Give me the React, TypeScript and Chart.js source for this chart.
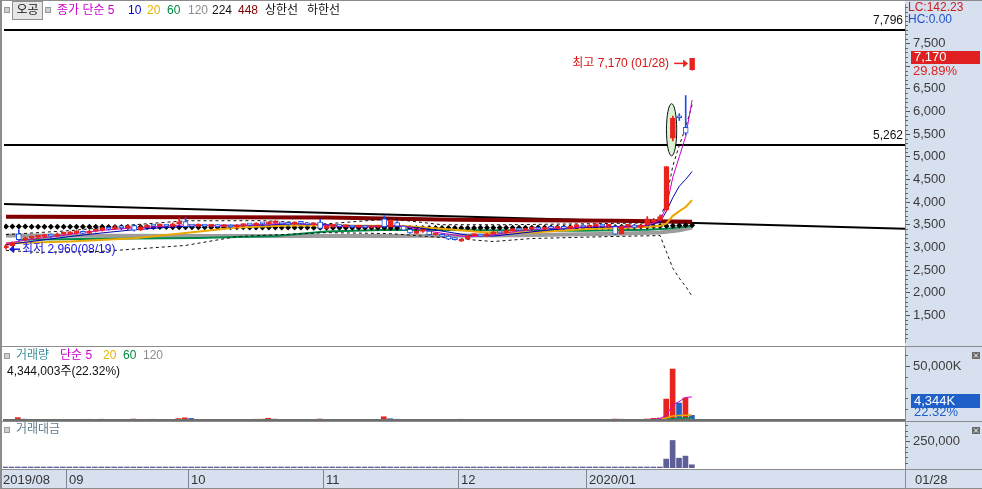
import React, { useEffect, useRef } from "react";
import { Chart, registerables } from "chart.js";
Chart.register(...registerables);

const FONT = '"Liberation Sans", "Noto Sans CJK KR", sans-serif';

// ---------- data ----------
const MONTH_LABELS = ["2019/08", "09", "10", "11", "12", "2020/01"];
const MONTH_START = [0, 10, 29, 50, 71, 91];
const LAST_DATE = "01/28";
const LOW_DATE = "08/19";
const HIGH_DATE = "01/28";
const CHANGE_PCT = "29.89%";
const VOL_LAST_TEXT = "4,344,003주(22.32%)";
const VOL_PCT = "22.32%";
const LC_TEXT = "LC:142.23";
const HC_TEXT = "HC:0.00";

const OPEN = [
  2990, 3040, 3300, 3170, 3200, 3220, 3240, 3260, 3250, 3290,
  3300, 3320, 3340, 3310, 3360, 3380, 3420, 3400, 3450, 3430,
  3480, 3380, 3450, 3480, 3470, 3500, 3470, 3520, 3570, 3480,
  3470, 3500, 3470, 3480, 3460, 3470, 3450, 3480, 3500, 3490,
  3530, 3520, 3540, 3560, 3520, 3510, 3540, 3530, 3500, 3560,
  3420, 3470, 3480, 3460, 3470, 3450, 3460, 3440, 3450, 3630,
  3460, 3550, 3470, 3400, 3310, 3350, 3360, 3280, 3290, 3250,
  3200, 3140, 3180, 3260, 3280, 3250, 3300, 3340, 3320, 3370,
  3400, 3380, 3410, 3430, 3400, 3440, 3420, 3450, 3420, 3460,
  3490, 3450, 3480, 3500, 3470, 3460, 3300, 3470, 3490, 3440,
  3500, 3560, 3600, 3830, 5410, 5880, 5650, 6920,
];
const HIGH = [
  3070, 3120, 3390, 3230, 3250, 3270, 3290, 3300, 3320, 3340,
  3350, 3370, 3360, 3380, 3400, 3440, 3450, 3480, 3470, 3500,
  3500, 3470, 3500, 3500, 3520, 3510, 3540, 3650, 3660, 3500,
  3520, 3510, 3500, 3490, 3490, 3480, 3500, 3520, 3510, 3550,
  3550, 3570, 3590, 3570, 3530, 3560, 3550, 3540, 3540, 3620,
  3480, 3490, 3490, 3490, 3480, 3480, 3470, 3470, 3480, 3700,
  3610, 3570, 3480, 3410, 3360, 3380, 3370, 3320, 3300, 3260,
  3210, 3190, 3270, 3300, 3290, 3310, 3350, 3350, 3380, 3410,
  3410, 3420, 3440, 3440, 3450, 3450, 3460, 3460, 3470, 3490,
  3500, 3490, 3510, 3510, 3500, 3480, 3480, 3500, 3500, 3500,
  3680, 3640, 3720, 4785, 5900, 5950, 6350, 7170,
];
const LOW = [
  2960, 3020, 3140, 3140, 3170, 3190, 3210, 3220, 3230, 3260,
  3280, 3300, 3290, 3300, 3340, 3360, 3380, 3390, 3410, 3420,
  3360, 3370, 3440, 3450, 3460, 3460, 3460, 3510, 3450, 3450,
  3460, 3460, 3450, 3440, 3450, 3430, 3440, 3470, 3470, 3480,
  3500, 3510, 3530, 3510, 3490, 3500, 3510, 3490, 3490, 3410,
  3410, 3440, 3450, 3450, 3440, 3440, 3430, 3430, 3430, 3440,
  3450, 3460, 3370, 3310, 3300, 3330, 3270, 3270, 3230, 3170,
  3160, 3130, 3170, 3250, 3240, 3240, 3290, 3310, 3310, 3360,
  3370, 3370, 3400, 3390, 3390, 3410, 3410, 3410, 3410, 3450,
  3440, 3440, 3470, 3460, 3460, 3280, 3290, 3460, 3430, 3430,
  3490, 3540, 3590, 3800, 5350, 5800, 5480, 6910,
];
const CLOSE = [
  3040, 3100, 3170, 3200, 3220, 3240, 3260, 3250, 3290, 3300,
  3320, 3340, 3310, 3360, 3380, 3420, 3400, 3450, 3430, 3470,
  3380, 3450, 3480, 3470, 3500, 3470, 3520, 3560, 3460, 3470,
  3500, 3470, 3480, 3460, 3470, 3450, 3480, 3500, 3490, 3530,
  3520, 3540, 3560, 3520, 3510, 3540, 3530, 3500, 3520, 3420,
  3470, 3480, 3460, 3470, 3450, 3460, 3440, 3450, 3470, 3460,
  3590, 3470, 3380, 3320, 3350, 3360, 3280, 3300, 3240, 3180,
  3170, 3180, 3260, 3280, 3250, 3300, 3340, 3320, 3370, 3400,
  3380, 3410, 3430, 3400, 3440, 3420, 3450, 3420, 3460, 3480,
  3450, 3480, 3500, 3470, 3490, 3290, 3470, 3490, 3440, 3490,
  3630, 3610, 3680, 4785, 5850, 5860, 5520, 7170,
];

// moving averages / bands as [dayIndex, value] points
const MA5 = [[0, 3090], [4, 3180], [8, 3250], [12, 3330], [16, 3390], [20, 3430], [24, 3460], [28, 3500], [32, 3480], [36, 3470], [40, 3510], [44, 3530], [48, 3510], [52, 3460], [56, 3450], [60, 3480], [62, 3470], [65, 3380], [69, 3290], [72, 3230], [76, 3280], [80, 3360], [84, 3410], [88, 3430], [92, 3470], [96, 3440], [99, 3460], [101, 3540], [102, 3600], [103, 3900], [104, 4550], [105, 5000], [106, 5450], [107, 6250]];
const MA10 = [[0, 3060], [5, 3150], [10, 3240], [15, 3320], [20, 3390], [25, 3440], [30, 3480], [35, 3490], [40, 3490], [45, 3520], [50, 3500], [55, 3470], [60, 3470], [64, 3440], [68, 3360], [72, 3270], [76, 3250], [80, 3310], [85, 3390], [90, 3440], [95, 3460], [100, 3480], [102, 3560], [103, 3800], [104, 4100], [105, 4350], [106, 4500], [107, 4674]];
const MA20 = [[0, 3090], [10, 3130], [20, 3200], [28, 3320], [36, 3440], [45, 3490], [55, 3480], [62, 3470], [68, 3410], [75, 3330], [82, 3330], [90, 3400], [98, 3440], [102, 3470], [103, 3530], [104, 3696], [105, 3800], [106, 3891], [107, 4043]];
const MA60 = [[2, 3170], [15, 3190], [30, 3210], [42, 3250], [50, 3350], [60, 3390], [75, 3380], [90, 3370], [100, 3390], [103, 3410], [107, 3470]];
const MA120 = [[0, 3260], [30, 3250], [60, 3250], [80, 3270], [95, 3300], [102, 3330], [105, 3380], [107, 3440]];
const MA448 = [[0, 3674], [50, 3660], [70, 3610], [95, 3587], [107, 3565]];
const MA224 = [
  3460, 3460, 3459, 3459, 3458, 3458, 3457, 3457, 3456, 3456,
  3455, 3455, 3454, 3454, 3453, 3453, 3452, 3452, 3451, 3451,
  3450, 3450, 3449, 3449, 3448, 3448, 3447, 3447, 3446, 3446,
  3445, 3445, 3444, 3444, 3443, 3443, 3442, 3442, 3441, 3441,
  3440, 3440, 3439, 3439, 3438, 3438, 3437, 3437, 3436, 3436,
  3435, 3435, 3434, 3434, 3433, 3433, 3432, 3432, 3431, 3431,
  3430, 3430, 3430, 3430, 3430, 3430, 3430, 3430, 3430, 3430,
  3430, 3430, 3430, 3430, 3431, 3431, 3432, 3432, 3433, 3433,
  3434, 3435, 3436, 3437, 3438, 3439, 3440, 3441, 3442, 3443,
  3444, 3445, 3446, 3448, 3450, 3452, 3454, 3456, 3458, 3460,
  3463, 3466, 3470, 3474, 3478, 3482, 3486, 3490,
];
const BB_UP = [[0, 3283], [10, 3370], [20, 3500], [28, 3587], [40, 3590], [50, 3520], [60, 3630], [68, 3500], [78, 3500], [90, 3520], [100, 3540], [102, 3560], [103, 4100], [104, 4800], [105, 5250], [106, 5650], [107, 6150]];
const BB_DN = [[0, 2935], [5, 2891], [15, 2913], [28, 3043], [36, 3239], [50, 3326], [60, 3304], [70, 3196], [76, 3130], [82, 3196], [94, 3239], [102, 3261], [103, 2900], [104, 2540], [105, 2320], [106, 2140], [107, 1920]];
const TREND = [[-0.3, 3960], [140.2, 3413]];
const HLINES = [7796, 5262];
const MARK = { idx: 103.8, hi: 6170, lo: 5020, half: 0.8 };

const VOLUME = [
  620, 540, 2200, 780, 560, 480, 510, 430, 590, 470,
  520, 610, 450, 680, 540, 720, 490, 630, 560, 600,
  880, 540, 470, 690, 520, 580, 610, 1300, 2000, 1500,
  600, 520, 470, 540, 610, 480, 520, 570, 640, 700,
  760, 1600, 820, 560, 600, 480, 520, 460, 540, 900,
  530, 480, 520, 470, 450, 500, 430, 480, 560, 3000,
  1200, 700, 640, 560, 500, 480, 520, 470, 460, 620,
  540, 700, 600, 520, 480, 540, 580, 500, 470, 520,
  480, 510, 540, 460, 500, 480, 520, 470, 510, 560,
  540, 520, 480, 500, 460, 860, 720, 540, 600, 580,
  900, 1500, 1800, 19400, 47200, 15700, 20400, 4344,
];
const VMA5 = [[101, 900], [102, 1100], [103, 4300], [104, 13800], [105, 17000], [106, 20800], [107, 21400]];
const VMA20 = [[102, 900], [103, 1800], [104, 3700], [105, 4200], [106, 4500], [107, 4700]];
const VMA60 = [[103, 900], [104, 1200], [107, 2000]];
const VMA120 = [[103, 800], [107, 1200]];

const TRADE_VALUE = [
  1850, 1680, 7100, 2500, 1800, 1550, 1650, 1400, 1920, 1550,
  1720, 2030, 1500, 2270, 1820, 2450, 1680, 2160, 1930, 2080,
  3030, 1860, 1630, 2400, 1820, 2030, 2140, 4600, 7000, 5200,
  2090, 1810, 1640, 1880, 2120, 1670, 1810, 1990, 2240, 2450,
  2670, 5660, 2900, 1990, 2120, 1700, 1840, 1620, 1900, 3150,
  1850, 1670, 1810, 1640, 1560, 1740, 1490, 1660, 1940, 10600,
  4300, 2460, 2220, 1880, 1670, 1610, 1720, 1560, 1510, 2000,
  1720, 2250, 1950, 1700, 1570, 1780, 1920, 1660, 1570, 1750,
  1630, 1740, 1850, 1580, 1720, 1650, 1800, 1620, 1760, 1940,
  1870, 1810, 1670, 1740, 1600, 2900, 2490, 1880, 2100, 2030,
  3200, 5400, 6500, 84000, 259000, 92000, 112000, 30400,
];

const PRICE_TICKS = [1500, 2000, 2500, 3000, 3500, 4000, 4500, 5000, 5500, 6000, 6500, 7000, 7500];
const VOLUME_TICKS = [50000];
const VALUE_TICKS = [250000];

// ---------- style ----------
const RED = "#e8231e";
const CANDLE_BLUE = "#1e4fe0";
const VOL_BLUE = "#2160c4";
const AXIS_BG = "#d6e0ee";
const VAL_COLOR = "#5e5e98";
const C_MA5 = "#d000d0";
const C_MA10 = "#0000b4";
const C_MA20 = "#e8a800";
const C_MA60 = "#008a4a";
const C_MA120 = "#9c9c9c";
const C_MA448 = "#800000";

const X_SCALE = { type: "linear", min: -0.31, max: 140.2, display: false, offset: false };

const fmt = (v: number) => v.toLocaleString("en-US");

function txt(ctx: CanvasRenderingContext2D, s: string, x: number, y: number, color: string, size = 12, align: CanvasTextAlign = "left", baseline: CanvasTextBaseline = "middle") {
  ctx.save();
  ctx.font = `${size}px ${FONT}`;
  ctx.fillStyle = color;
  ctx.textAlign = align;
  ctx.textBaseline = baseline;
  ctx.fillText(s, x, y);
  ctx.restore();
}

function yAxis(min: number, max: number, ticks: number[], label: (v: number) => string) {
  return {
    position: "right",
    min,
    max,
    afterFit(s: any) {
      s.width = 77;
      s.paddingTop = 0;
      s.paddingBottom = 0;
    },
    afterBuildTicks(s: any) {
      s.ticks = ticks.map((v) => ({ value: v }));
    },
    ticks: { callback: (v: any) => label(Number(v)), color: "#3c3c3c", font: { family: FONT, size: 13 }, padding: 3, autoSkip: false },
    grid: { drawOnChartArea: false, drawTicks: true, tickLength: 5, tickColor: "#555", lineWidth: 1 },
    border: { display: true, color: "#8a8a8a", width: 1 },
  };
}

function minorTicks(chart: any, from: number, to: number, step: number, major: number[]) {
  const { ctx, chartArea: a, scales } = chart;
  const y = scales.y;
  ctx.save();
  ctx.strokeStyle = "#666";
  ctx.lineWidth = 1;
  for (let v = from; v <= to; v += step) {
    if (major.includes(v)) continue;
    const py = Math.round(y.getPixelForValue(v)) + 0.5;
    if (py < a.top || py > a.bottom) continue;
    ctx.beginPath();
    ctx.moveTo(a.right, py);
    ctx.lineTo(a.right + 3, py);
    ctx.stroke();
  }
  ctx.restore();
}

function bgPlugin(id: string) {
  return {
    id,
    beforeDraw(chart: any) {
      const { ctx, width, height, chartArea: a } = chart;
      ctx.save();
      ctx.fillStyle = "#ffffff";
      ctx.fillRect(0, 0, width, height);
      ctx.fillStyle = AXIS_BG;
      ctx.fillRect(a.right, 0, width - a.right, height);
      ctx.restore();
    },
  };
}

function frame(ctx: CanvasRenderingContext2D, width: number, height: number, topLine: boolean) {
  ctx.save();
  ctx.fillStyle = "#8c8c8c";
  if (topLine) ctx.fillRect(0, 0, width, 1);
  ctx.fillRect(0, 0, 2, height);
  ctx.restore();
}

function smallBox(ctx: CanvasRenderingContext2D, x: number, y: number) {
  ctx.save();
  ctx.fillStyle = "#9a9a9a";
  ctx.fillRect(x, y, 6, 6);
  ctx.fillStyle = "#cfcfcf";
  ctx.fillRect(x + 1, y + 1, 4, 4);
  ctx.restore();
}

function closeIcon(ctx: CanvasRenderingContext2D, x: number, y: number) {
  ctx.save();
  ctx.fillStyle = "#6a6a6a";
  ctx.fillRect(x, y, 8, 7);
  ctx.strokeStyle = "#fff";
  ctx.lineWidth = 1;
  ctx.beginPath();
  ctx.moveTo(x + 2, y + 1.5);
  ctx.lineTo(x + 6, y + 5.5);
  ctx.moveTo(x + 6, y + 1.5);
  ctx.lineTo(x + 2, y + 5.5);
  ctx.stroke();
  ctx.restore();
}

const line = (pts: number[][], color: string, width: number, order: number, dash: number[] = []) => ({
  type: "line",
  data: pts.map(([x, y]) => ({ x, y })),
  borderColor: color,
  borderWidth: width,
  borderDash: dash,
  pointRadius: 0,
  tension: 0,
  fill: false,
  order,
});

const baseOptions = (padding: any, y: any) => ({
  responsive: false,
  animation: false,
  devicePixelRatio: 1,
  events: [],
  layout: { padding },
  plugins: { legend: { display: false }, tooltip: { enabled: false } },
  scales: { x: X_SCALE, y },
});

// ---------- price panel ----------
function priceConfig(): any {
  const idx = CLOSE.map((_, i) => i);
  const up = CLOSE.map((c, i) => c >= OPEN[i]);
  const last = CLOSE.length - 1;
  const plugin = {
    id: "pricePanel",
    beforeDatasetsDraw(chart: any) {
      const { ctx, chartArea: a, scales } = chart;
      const { x, y } = scales;
      ctx.save();
      HLINES.forEach((v) => {
        const py = Math.round(y.getPixelForValue(v));
        ctx.fillStyle = "#000";
        ctx.fillRect(a.left, py - 1, a.right - a.left, 2);
        txt(ctx, fmt(v), a.right - 2, py - 3, "#111", 12, "right", "bottom");
      });
      // highlight ellipse
      const cx = x.getPixelForValue(MARK.idx);
      const rx = x.getPixelForValue(MARK.idx + MARK.half) - cx;
      const top = y.getPixelForValue(MARK.hi);
      const bot = y.getPixelForValue(MARK.lo);
      ctx.beginPath();
      ctx.ellipse(cx, (top + bot) / 2, rx, (bot - top) / 2, 0, 0, Math.PI * 2);
      ctx.fillStyle = "#d9f2cf";
      ctx.fill();
      ctx.strokeStyle = "#111";
      ctx.lineWidth = 1;
      ctx.stroke();
      ctx.restore();
    },
    afterDatasetsDraw(chart: any) {
      const { ctx, scales } = chart;
      const { x, y } = scales;
      // highest
      const hx = x.getPixelForValue(last);
      const hy = y.getPixelForValue(HIGH[last]) + 5;
      ctx.save();
      ctx.strokeStyle = RED;
      ctx.fillStyle = RED;
      ctx.lineWidth = 1.5;
      ctx.beginPath();
      ctx.moveTo(hx - 18, hy);
      ctx.lineTo(hx - 8, hy);
      ctx.stroke();
      ctx.beginPath();
      ctx.moveTo(hx - 9, hy - 4);
      ctx.lineTo(hx - 4, hy);
      ctx.lineTo(hx - 9, hy + 4);
      ctx.closePath();
      ctx.fill();
      ctx.restore();
      txt(ctx, `최고 ${fmt(HIGH[last])} (${HIGH_DATE})`, hx - 23, hy, "#d81414", 12, "right");
      // lowest
      const lx = x.getPixelForValue(0);
      const ly = y.getPixelForValue(LOW[0]);
      ctx.save();
      ctx.strokeStyle = "#1a1ae0";
      ctx.fillStyle = "#1a1ae0";
      ctx.lineWidth = 1.5;
      ctx.beginPath();
      ctx.moveTo(lx + 7, ly);
      ctx.lineTo(lx + 14, ly);
      ctx.stroke();
      ctx.beginPath();
      ctx.moveTo(lx + 8, ly - 4);
      ctx.lineTo(lx + 3, ly);
      ctx.lineTo(lx + 8, ly + 4);
      ctx.closePath();
      ctx.fill();
      ctx.restore();
      txt(ctx, `최저 ${fmt(LOW[0])}(${LOW_DATE})`, lx + 16, ly, "#1a1ae0", 12, "left");
    },
    afterDraw(chart: any) {
      const { ctx, width, height, chartArea: a, scales } = chart;
      const y = scales.y;
      minorTicks(chart, 1000, 8300, 100, PRICE_TICKS);
      frame(ctx, width, height, true);
      // header
      smallBox(ctx, 4, 7);
      ctx.save();
      ctx.fillStyle = "#e6e6e6";
      ctx.fillRect(12, 1, 31, 19);
      ctx.strokeStyle = "#8f8f8f";
      ctx.strokeRect(12.5, 1.5, 30, 18);
      ctx.restore();
      txt(ctx, "오공", 27.5, 11, "#111", 12, "center");
      smallBox(ctx, 45, 7);
      txt(ctx, "종가 단순 5", 57, 11, "#cc00cc");
      txt(ctx, "10", 128, 11, "#0000c8");
      txt(ctx, "20", 147, 11, "#e6b400");
      txt(ctx, "60", 167, 11, "#008a40");
      txt(ctx, "120", 188, 11, "#8c8c8c");
      txt(ctx, "224", 212, 11, "#111");
      txt(ctx, "448", 238, 11, "#800000");
      txt(ctx, "상한선", 265, 11, "#111");
      txt(ctx, "하한선", 307, 11, "#111");
      // right side info
      txt(ctx, LC_TEXT, a.right + 3, 8, "#cc2020", 12);
      txt(ctx, HC_TEXT, a.right + 3, 20, "#2050c8", 12);
      const cy = Math.round(y.getPixelForValue(CLOSE[last]));
      ctx.save();
      ctx.fillStyle = AXIS_BG;
      ctx.fillRect(a.right + 7, cy + 6, 68, 14);
      ctx.fillStyle = "#e02020";
      ctx.fillRect(a.right + 6, cy - 7, 69, 13);
      ctx.restore();
      txt(ctx, fmt(CLOSE[last]), a.right + 9, cy - 0.5, "#ffffff", 13);
      txt(ctx, CHANGE_PCT, a.right + 8, cy + 13, "#e02020", 13);
    },
  };
  return {
    type: "bar",
    data: {
      datasets: [
        {
          type: "bar",
          data: idx.map((i) => ({ x: i, y: [OPEN[i], CLOSE[i]] })),
          backgroundColor: up.map((u) => (u ? RED : "#ffffff")),
          borderColor: up.map((u) => (u ? RED : CANDLE_BLUE)),
          borderWidth: 1,
          borderSkipped: false,
          barThickness: 5,
          grouped: false,
          minBarLength: 2,
          order: 0,
        },
        {
          type: "bar",
          data: idx.map((i) => ({ x: i, y: [LOW[i], HIGH[i]] })),
          backgroundColor: up.map((u) => (u ? RED : CANDLE_BLUE)),
          borderWidth: 0,
          barThickness: 1,
          grouped: false,
          order: 1,
        },
        line(MA5, C_MA5, 1, 2),
        line(MA10, C_MA10, 1, 3),
        line(MA20, C_MA20, 2, 4),
        line(BB_UP, "#111", 1, 5, [3, 3]),
        line(BB_DN, "#111", 1, 5, [3, 3]),
        {
          type: "line",
          data: MA224.map((v, i) => ({ x: i, y: v })),
          showLine: false,
          pointStyle: "rectRot",
          pointRadius: 3,
          pointBackgroundColor: "#000",
          pointBorderColor: "#000",
          pointBorderWidth: 0,
          order: 6,
        },
        line(MA60, C_MA60, 2, 7),
        line(MA120, C_MA120, 4, 8),
        line(MA448, C_MA448, 4, 9),
        line(TREND, "#000", 2, 10),
      ],
    },
    options: baseOptions({ left: 3, top: 2, right: 0, bottom: 1 }, yAxis(913, 8370, PRICE_TICKS, fmt)),
    plugins: [bgPlugin("priceBg"), plugin],
  };
}

// ---------- volume panel ----------
function volumeConfig(): any {
  const idx = VOLUME.map((_, i) => i);
  const plugin = {
    id: "volPanel",
    afterDraw(chart: any) {
      const { ctx, width, height, chartArea: a } = chart;
      minorTicks(chart, 10000, 60000, 10000, VOLUME_TICKS);
      ctx.save();
      ctx.fillStyle = "#6e6e6e";
      ctx.fillRect(a.left, Math.round(a.bottom) - 1, a.right - a.left, 2);
      ctx.restore();
      frame(ctx, width, height, true);
      smallBox(ctx, 4, 7);
      txt(ctx, "거래량", 16, 10, "#3d8f9c");
      txt(ctx, "단순 5", 60, 10, "#cc00cc");
      txt(ctx, "20", 103, 10, "#e6b400");
      txt(ctx, "60", 123, 10, "#008a40");
      txt(ctx, "120", 143, 10, "#8c8c8c");
      txt(ctx, VOL_LAST_TEXT, 7, 26, "#111");
      ctx.save();
      ctx.fillStyle = "#1f5fc8";
      ctx.fillRect(a.right + 6, 48, 69, 14);
      ctx.restore();
      txt(ctx, `${fmt(VOLUME[VOLUME.length - 1])}K`, a.right + 9, 55.5, "#ffffff", 13);
      txt(ctx, VOL_PCT, a.right + 9, 66, "#1f5fc8", 13);
      closeIcon(ctx, 972, 6);
    },
  };
  return {
    type: "bar",
    data: {
      datasets: [
        line(VMA5, C_MA5, 1, 0),
        line(VMA20, C_MA20, 1.5, 1),
        line(VMA60, C_MA60, 1.5, 2),
        line(VMA120, C_MA120, 1, 3),
        {
          type: "bar",
          data: idx.map((i) => ({ x: i, y: VOLUME[i] })),
          backgroundColor: idx.map((i) => (i > 0 && VOLUME[i] > VOLUME[i - 1] ? RED : VOL_BLUE)),
          borderWidth: 0,
          barThickness: 5,
          grouped: false,
          order: 5,
        },
      ],
    },
    options: baseOptions({ left: 3, top: 1, right: 0, bottom: 1 }, yAxis(0, 67593, VOLUME_TICKS, (v) => `${fmt(v)}K`)),
    plugins: [bgPlugin("volBg"), plugin],
  };
}

// ---------- trading value panel + date axis ----------
function valueConfig(): any {
  const idx = TRADE_VALUE.map((_, i) => i);
  const plugin = {
    id: "valPanel",
    afterDraw(chart: any) {
      const { ctx, width, height, chartArea: a, scales } = chart;
      const x = scales.x;
      minorTicks(chart, 50000, 400000, 50000, VALUE_TICKS);
      frame(ctx, width, height, true);
      smallBox(ctx, 4, 6);
      txt(ctx, "거래대금", 16, 9, "#5f7f8f");
      closeIcon(ctx, 972, 6);
      // date axis bar
      const top = Math.round(a.bottom) + 1;
      ctx.save();
      ctx.fillStyle = AXIS_BG;
      ctx.fillRect(0, top, width, height - top);
      ctx.fillStyle = "#8c8c8c";
      ctx.fillRect(0, top, width, 1);
      ctx.fillRect(0, height - 1, width, 1);
      ctx.fillRect(0, top, 2, height - top);
      ctx.fillRect(Math.round(a.right), top, 1, height - top);
      ctx.fillStyle = "#7d8796";
      MONTH_START.forEach((m, i) => {
        if (i === 0) return;
        const sx = Math.round(x.getPixelForValue(m - 0.5));
        ctx.fillRect(sx, top, 1, height - top);
      });
      ctx.restore();
      MONTH_START.forEach((m, i) => {
        const sx = i === 0 ? 3 : Math.round(x.getPixelForValue(m - 0.5)) + 3;
        txt(ctx, MONTH_LABELS[i], sx, top + 11, "#333", 13);
      });
      txt(ctx, LAST_DATE, a.right + 10, top + 11, "#333", 13);
    },
  };
  return {
    type: "bar",
    data: {
      datasets: [
        {
          type: "bar",
          data: idx.map((i) => ({ x: i, y: TRADE_VALUE[i] })),
          backgroundColor: VAL_COLOR,
          borderWidth: 0,
          barThickness: 5,
          grouped: false,
          minBarLength: 1,
        },
      ],
    },
    options: baseOptions({ left: 3, top: 1, right: 0, bottom: 21 }, yAxis(0, 432692, VALUE_TICKS, fmt)),
    plugins: [bgPlugin("valBg"), plugin],
  };
}

export default function App() {
  const r1 = useRef<HTMLCanvasElement>(null);
  const r2 = useRef<HTMLCanvasElement>(null);
  const r3 = useRef<HTMLCanvasElement>(null);
  useEffect(() => {
    const charts = [
      new Chart(r1.current as HTMLCanvasElement, priceConfig()),
      new Chart(r2.current as HTMLCanvasElement, volumeConfig()),
      new Chart(r3.current as HTMLCanvasElement, valueConfig()),
    ];
    return () => charts.forEach((c) => c.destroy());
  }, []);
  return (
    <div style={{ position: "absolute", left: 0, top: 0, width: 982, height: 489, background: "#fff", overflow: "hidden" }}>
      <canvas ref={r1} width={982} height={346} style={{ position: "absolute", left: 0, top: 0 }} />
      <canvas ref={r2} width={982} height={75} style={{ position: "absolute", left: 0, top: 346 }} />
      <canvas ref={r3} width={982} height={68} style={{ position: "absolute", left: 0, top: 421 }} />
    </div>
  );
}
